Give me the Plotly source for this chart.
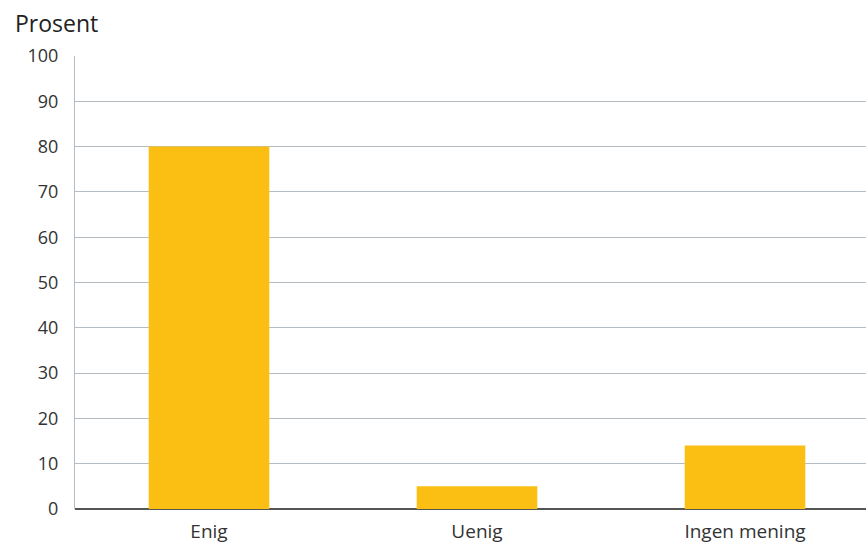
import plotly.graph_objects as go

categories = ["Enig", "Uenig", "Ingen mening"]
values = [80, 5, 14]
y_ticks = [0, 10, 20, 30, 40, 50, 60, 70, 80, 90, 100]

fig = go.Figure(
    go.Bar(
        x=categories,
        y=values,
        marker=dict(color="#FBBE13", line=dict(width=0)),
        width=0.45,
    )
)

fig.update_layout(
    width=866,
    height=546,
    margin=dict(l=75, r=0, t=56, b=37),
    paper_bgcolor="white",
    plot_bgcolor="white",
    font=dict(family="Open Sans", size=17, color="#333333"),
    showlegend=False,
    bargap=0.55,
    annotations=[
        dict(
            text="Prosent",
            xref="paper", yref="paper",
            x=-0.079, y=1.073,
            xanchor="left", yanchor="middle",
            showarrow=False,
            font=dict(size=23, color="#222222", family="Open Sans"),
        )
    ],
)

fig.update_xaxes(
    range=[-0.5, 2.4515],
    showgrid=False,
    showline=False,
    ticks="",
    automargin=False,
    tickfont=dict(size=19, color="#333333"),
    ticklabelstandoff=9,
)

fig.update_yaxes(
    range=[0, 100],
    tickvals=y_ticks,
    showgrid=True,
    gridcolor="#B4BCC4",
    gridwidth=1,
    showline=True,
    linecolor="#B4BCC4",
    linewidth=1,
    zeroline=True,
    zerolinecolor="#555555",
    zerolinewidth=2,
    ticks="",
    automargin=False,
    ticklabelstandoff=12,
    tickfont=dict(size=18, color="#333333"),
)

fig.write_html("out.html")
